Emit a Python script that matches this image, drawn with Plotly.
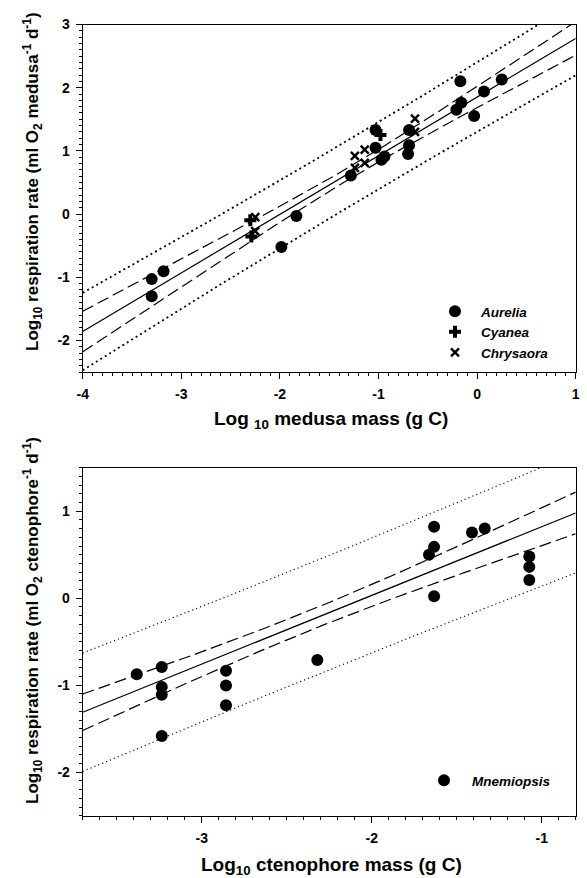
import numpy as np
import plotly.graph_objects as go

# ---------------- data ----------------
aurelia_x = [-3.30, -3.30, -3.18, -1.985, -1.833, -1.28, -1.03, -1.03, -0.97, -0.94,
             -0.70, -0.69, -0.69, -0.21, -0.17, -0.16, -0.03, 0.07, 0.25]
aurelia_y = [-1.03, -1.30, -0.905, -0.52, -0.03, 0.61, 1.33, 1.05, 0.86, 0.91,
             0.95, 1.09, 1.33, 1.65, 2.10, 1.76, 1.55, 1.94, 2.13]
cyanea_x = [-2.30, -2.29, -0.98]
cyanea_y = [-0.10, -0.355, 1.25]
chrysaora_x = [-2.25, -2.25, -1.24, -1.14, -1.14, -1.24, -0.63, -0.63]
chrysaora_y = [-0.05, -0.27, 0.92, 1.02, 0.81, 0.73, 1.51, 1.30]

mnemiopsis_x = [-3.382, -3.235, -3.235, -3.235, -3.235, -2.857, -2.857, -2.857, -2.32,
                -1.663, -1.633, -1.633, -1.633, -1.41, -1.335, -1.073, -1.073, -1.073]
mnemiopsis_y = [-0.873, -0.79, -1.02, -1.11, -1.585, -0.835, -1.004, -1.23, -0.71,
                0.50, 0.59, 0.82, 0.023, 0.754, 0.80, 0.48, 0.36, 0.21]

# regression lines:
# intercept, slope, x of narrowest band, CI half-width there, PI half-width there, band growth
medusa_fit = dict(intercept=1.852, slope=0.928, xc=-1.24, ci0=0.095, pi0=0.53, k=0.111)
cteno_fit = dict(intercept=1.612, slope=0.790, xc=-2.38, ci0=0.115, pi0=0.657, k=0.133)

top_xticks = [-4, -3, -2, -1, 0, 1]
top_xlabels = ["-4", "-3", "-2", "-1", "0", "1"]
top_yticks = [-2, -1, 0, 1, 2, 3]
top_ylabels = ["-2", "-1", "0", "1", "2", "3"]
bot_xticks = [-3, -2, -1]
bot_xlabels = ["-3", "-2", "-1"]
bot_yticks = [-2, -1, 0, 1]
bot_ylabels = ["-2", "-1", "0", "1"]

W, H = 587, 878
FONT = "Liberation Sans, Arial, sans-serif"


def bands(p, xs):
    yh = p["intercept"] + p["slope"] * xs
    d2 = (xs - p["xc"]) ** 2
    ci = np.sqrt(p["ci0"] ** 2 + p["k"] ** 2 * d2)
    pi = np.sqrt(p["pi0"] ** 2 + p["k"] ** 2 * d2)
    return yh, yh - ci, yh + ci, yh - pi, yh + pi


fig = go.Figure()

line_solid = dict(color="black", width=1.2)
line_dash = dict(color="black", width=1.2, dash="12px,5px")
line_dot = dict(color="black", width=1.8, dash="2px,3.2px")
line_dot2 = dict(color="black", width=1.1, dash="1.2px,3px")

# ---------------- top panel ----------------
xs_top = np.linspace(-4, 1, 200)
yh, cl, cu, pl, pu = bands(medusa_fit, xs_top)
for yy, ln in [(pu, line_dot), (pl, line_dot), (cu, line_dash), (cl, line_dash), (yh, line_solid)]:
    fig.add_trace(go.Scatter(x=xs_top, y=yy, mode="lines", line=ln, showlegend=False,
                             hoverinfo="skip", xaxis="x", yaxis="y"))

fig.add_trace(go.Scatter(x=aurelia_x, y=aurelia_y, mode="markers", name="Aurelia",
                         marker=dict(symbol="circle", size=12, color="black"),
                         xaxis="x", yaxis="y", legend="legend"))
fig.add_trace(go.Scatter(x=cyanea_x, y=cyanea_y, mode="markers", name="Cyanea",
                         marker=dict(symbol="cross", size=10, color="black"),
                         xaxis="x", yaxis="y", legend="legend"))
fig.add_trace(go.Scatter(x=chrysaora_x, y=chrysaora_y, mode="markers", name="Chrysaora",
                         marker=dict(symbol="x-thin", size=8, color="black",
                                     line=dict(color="black", width=2.4)),
                         xaxis="x", yaxis="y", legend="legend"))

# ---------------- bottom panel ----------------
xs_bot = np.linspace(-3.7, -0.8, 200)
yh2, cl2, cu2, pl2, pu2 = bands(cteno_fit, xs_bot)
for yy, ln in [(pu2, line_dot2), (pl2, line_dot2), (cu2, line_dash), (cl2, line_dash), (yh2, line_solid)]:
    fig.add_trace(go.Scatter(x=xs_bot, y=yy, mode="lines", line=ln, showlegend=False,
                             hoverinfo="skip", xaxis="x2", yaxis="y2"))

fig.add_trace(go.Scatter(x=mnemiopsis_x, y=mnemiopsis_y, mode="markers", name="Mnemiopsis",
                         marker=dict(symbol="circle", size=12, color="black"),
                         xaxis="x2", yaxis="y2", legend="legend2"))

# ---------------- layout ----------------
def px_x(p):
    return p / W


def px_y(p):
    return 1 - p / H


tickfont = dict(family=FONT, size=14, color="black", weight="bold")
common = dict(showline=True, linecolor="black", linewidth=1, mirror=True,
              ticks="outside", ticklen=6, tickwidth=1, tickcolor="black",
              showgrid=False, zeroline=False, tickfont=tickfont,
              automargin=False, ticklabelstandoff=3, ticklabeloverflow="allow",
              minor=dict(dtick=0.1, ticks="outside", ticklen=3, tickcolor="black", tickwidth=1))

xdom = [px_x(82.7), px_x(575.7)]
legend_font = dict(family=FONT, size=13.5, color="black", weight="bold", style="italic")
fig.update_layout(
    width=W, height=H,
    margin=dict(l=0, r=0, t=0, b=0),
    paper_bgcolor="white", plot_bgcolor="white",
    xaxis=dict(domain=xdom, range=[-4, 1], tickvals=top_xticks, ticktext=top_xlabels,
               anchor="y", **common),
    yaxis=dict(domain=[px_y(372), px_y(24.5)], range=[-2.5, 3], tickvals=top_yticks,
               ticktext=top_ylabels, anchor="x", **common),
    xaxis2=dict(domain=xdom, range=[-3.7, -0.8], tickvals=bot_xticks, ticktext=bot_xlabels,
                anchor="y2", **common),
    yaxis2=dict(domain=[px_y(815.7), px_y(467.7)], range=[-2.5, 1.5], tickvals=bot_yticks,
                ticktext=bot_ylabels, anchor="x2", **common),
    legend=dict(x=px_x(429), y=px_y(296), xanchor="left", yanchor="top",
                bgcolor="rgba(0,0,0,0)", itemwidth=42, tracegroupgap=0, font=legend_font),
    legend2=dict(x=px_x(416), y=px_y(765), xanchor="left", yanchor="top",
                 bgcolor="rgba(0,0,0,0)", itemwidth=46, font=legend_font),
    showlegend=True,
)

ytitle_font = dict(family=FONT, size=17, color="black", weight="bold")
xtitle_font = dict(family=FONT, size=19, color="black", weight="bold")
fig.add_annotation(text="Log<sub>10</sub> respiration rate (ml O<sub>2</sub> medusa<sup>-1</sup> d<sup>-1</sup>)",
                   x=px_x(32), y=px_y(182), xref="paper", yref="paper", textangle=-90,
                   showarrow=False, font=ytitle_font, xanchor="center", yanchor="middle")
fig.add_annotation(text="Log <sub>10</sub> medusa mass (g C)",
                   x=px_x(331), y=px_y(420), xref="paper", yref="paper",
                   showarrow=False, font=xtitle_font, xanchor="center", yanchor="middle")
fig.add_annotation(text="Log<sub>10</sub> respiration rate (ml O<sub>2</sub> ctenophore<sup>-1</sup> d<sup>-1</sup>)",
                   x=px_x(32), y=px_y(621), xref="paper", yref="paper", textangle=-90,
                   showarrow=False, font=ytitle_font, xanchor="center", yanchor="middle")
fig.add_annotation(text="Log<sub>10</sub> ctenophore mass (g C)",
                   x=px_x(331), y=px_y(866), xref="paper", yref="paper",
                   showarrow=False, font=xtitle_font, xanchor="center", yanchor="middle")

fig.write_html("out.html", config={"displayModeBar": False},
               post_script="document.body.style.margin='0';document.body.style.overflow='hidden';")
